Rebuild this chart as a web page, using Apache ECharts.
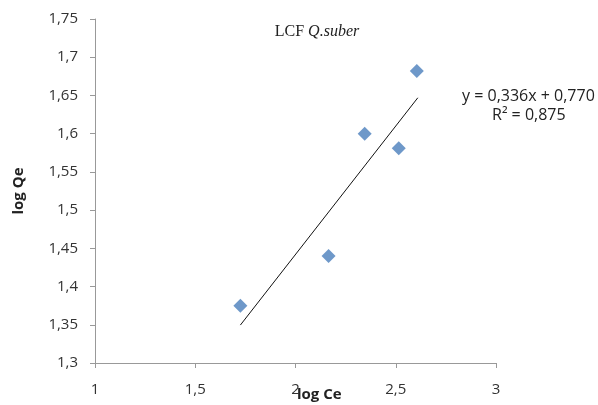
<!DOCTYPE html>
<html lang="en" style="height: 100%">
<head>
  <meta charset="utf-8">
</head>
<body style="height: 100%; margin: 0; background-color:#ffffff;">
  <div id="container" style="height: 100%"></div>

<script src="https://fastly.jsdelivr.net/npm/echarts@6/dist/echarts.min.js"></script>

<script>
  var dom = document.getElementById('container');
  var myChart = echarts.init(dom);

  // measured points (log Ce, log Qe)
  var logCe = [1.725, 2.165, 2.345, 2.515, 2.605];
  var logQe = [1.375, 1.44, 1.60, 1.581, 1.682];
  // linear fit shown on the chart
  var slope = 0.336;
  var intercept = 0.770;
  var fitX = [1.725, 2.61];

  var points = logCe.map((x, i) => [x, logQe[i]]);
  var fitLine = fitX.map(x => [x, slope * x + intercept]);

  function comma(v) {
    return String(+v.toFixed(2)).replace('.', ',');
  }

  var labelFont = { fontFamily: 'Open Sans', fontSize: 15, color: '#333' };

  var option = {
    animation: false,
    title: {
      text: '{a|LCF }{b|Q.suber}',
      left: 312,
      top: 19,
      textAlign: 'center',
      textStyle: {
        rich: {
          a: { fontFamily: 'Liberation Serif', fontSize: 16, fontWeight: 'normal', color: '#222' },
          b: { fontFamily: 'Liberation Serif', fontSize: 16, fontWeight: 'normal', fontStyle: 'italic', color: '#222' }
        }
      }
    },
    grid: { left: 95, right: 102, top: 19, bottom: 42, outerBoundsMode: 'none' },
    xAxis: {
      type: 'value',
      min: 1, max: 3, interval: 0.5,
      axisLine: { lineStyle: { color: '#999' } },
      axisTick: { show: true, length: 5, lineStyle: { color: '#999' } },
      splitLine: { show: false },
      axisLabel: Object.assign({ margin: 19, formatter: comma }, labelFont)
    },
    yAxis: {
      type: 'value',
      min: 1.3, max: 1.75, interval: 0.05,
      name: 'log Qe',
      nameLocation: 'middle',
      nameGap: 69,
      nameTextStyle: { fontFamily: 'Open Sans', fontWeight: 'bold', fontSize: 15, color: '#222' },
      axisLine: { show: true, lineStyle: { color: '#999' } },
      axisTick: { show: true, length: 5, lineStyle: { color: '#999' } },
      splitLine: { show: false },
      axisLabel: Object.assign({ margin: 17, formatter: comma }, labelFont)
    },
    graphic: [
      {
        type: 'text', left: 297, top: 387,
        style: { text: 'log Ce', fontFamily: 'Open Sans', fontWeight: 'bold', fontSize: 15, fill: '#222' }
      },
      {
        type: 'text', left: 462, top: 88,
        style: { text: 'y = 0,336x + 0,770', fontFamily: 'Open Sans', fontSize: 16, fill: '#222' }
      },
      {
        type: 'text', left: 492, top: 107,
        style: { text: 'R² = 0,875', fontFamily: 'Open Sans', fontSize: 16, fill: '#222' }
      }
    ],
    series: [
      {
        type: 'line',
        data: fitLine,
        symbol: 'none',
        lineStyle: { color: '#111', width: 1 },
        z: 1
      },
      {
        type: 'scatter',
        data: points,
        symbol: 'diamond',
        symbolSize: 14,
        itemStyle: { color: '#4a7ebb' },
        z: 2
      }
    ]
  };

  myChart.setOption(option);
  window.addEventListener('resize', myChart.resize);
</script>

</body>
</html>
